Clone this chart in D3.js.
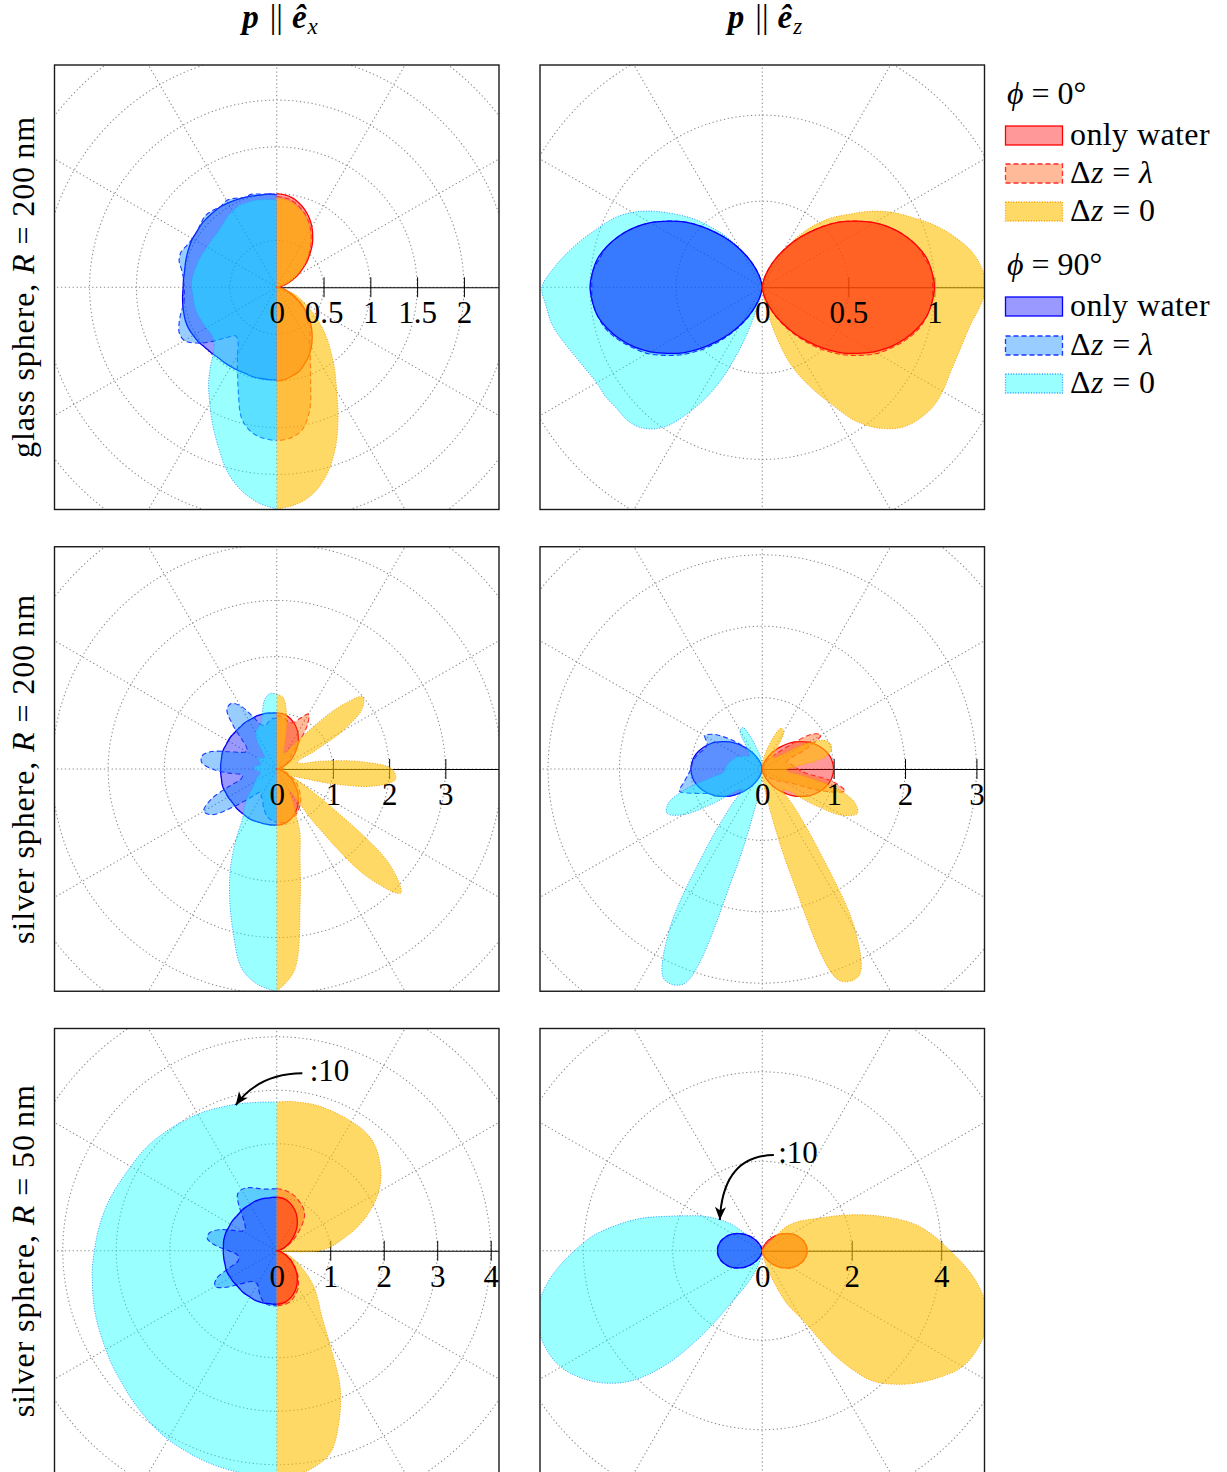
<!DOCTYPE html>
<html>
<head>
<meta charset="utf-8">
<script src="https://cdn.jsdelivr.net/npm/d3@7"></script>
<style>
  html, body { margin: 0; padding: 0; background: #fff; overflow: hidden; }
  svg { display: block; }
  text { font-family: "Liberation Serif", "Times New Roman", serif; fill: #000; }
</style>
</head>
<body>
<svg id="fig" width="1227" height="1472"></svg>
<script>
// Polar angle of every sample, measured from the upward axis (0 = up, 90 = sideways, 180 = down)
const angleDeg = [0,5,10,15,20,25,30,35,40,45,50,55,60,65,70,75,80,85,90,95,100,105,110,115,120,125,130,135,140,145,150,155,160,165,170,175,180];

// ---- glass sphere, R = 200 nm, p || e_x ----
const glassEx_water0  = [1.00,0.99,0.97,0.93,0.88,0.82,0.75,0.67,0.59,0.50,0.42,0.33,0.26,0.18,0.12,0.07,0.03,0.01,0.00,0.01,0.03,0.07,0.12,0.18,0.25,0.33,0.41,0.50,0.58,0.66,0.74,0.81,0.87,0.93,0.96,0.99,1.00];
const glassEx_lambda0 = [0.97,0.96,0.94,0.90,0.85,0.79,0.72,0.64,0.56,0.48,0.40,0.32,0.25,0.17,0.11,0.06,0.03,0.01,0.00,0.01,0.03,0.06,0.10,0.15,0.22,0.30,0.40,0.50,0.56,0.62,0.71,0.85,1.06,1.36,1.55,1.62,1.64];
const glassEx_zero0   = [0.95,0.94,0.92,0.88,0.84,0.78,0.71,0.63,0.55,0.47,0.39,0.31,0.24,0.17,0.11,0.06,0.03,0.01,0.00,0.02,0.05,0.10,0.18,0.26,0.35,0.47,0.60,0.75,0.90,1.08,1.28,1.55,1.83,2.07,2.24,2.33,2.37];
const glassEx_water90  = [0.99,1.00,1.00,1.01,1.02,1.03,1.04,1.05,1.05,1.05,1.05,1.04,1.04,1.03,1.02,1.01,1.00,1.00,1.00,1.01,1.02,1.03,1.04,1.04,1.03,1.02,1.00,0.99,0.98,0.98,0.98,0.98,0.98,0.99,0.99,0.99,0.99];
const glassEx_lambda90 = [0.99,1.00,1.01,1.03,1.02,1.05,1.07,1.05,1.07,1.08,1.06,1.04,1.04,1.06,1.09,1.08,1.03,1.00,0.99,0.99,1.01,1.06,1.11,1.15,1.14,1.04,0.90,0.76,0.68,0.72,0.84,0.99,1.20,1.45,1.57,1.62,1.64];
const glassEx_zero90   = [0.93,0.94,0.95,0.96,0.96,0.96,0.94,0.92,0.89,0.87,0.86,0.86,0.86,0.87,0.88,0.89,0.90,0.91,0.91,0.90,0.90,0.90,0.89,0.88,0.87,0.86,0.88,0.95,1.10,1.27,1.43,1.62,1.82,2.04,2.20,2.31,2.37];

// ---- glass sphere, R = 200 nm, p || e_z ----
const glassEz_water0  = [0.00,0.01,0.03,0.07,0.12,0.18,0.25,0.33,0.41,0.50,0.59,0.67,0.75,0.82,0.88,0.93,0.97,0.99,1.00,0.99,0.97,0.93,0.88,0.82,0.75,0.67,0.59,0.50,0.41,0.33,0.25,0.18,0.12,0.07,0.03,0.01,0.00];
const glassEz_lambda0 = [0.00,0.01,0.03,0.07,0.12,0.18,0.25,0.33,0.41,0.50,0.59,0.67,0.75,0.82,0.88,0.93,0.96,0.99,0.99,0.99,0.97,0.94,0.89,0.83,0.77,0.69,0.61,0.52,0.43,0.34,0.26,0.19,0.12,0.07,0.03,0.01,0.00];
const glassEz_zero0   = [0.00,0.01,0.03,0.07,0.11,0.17,0.25,0.36,0.47,0.57,0.66,0.77,0.87,0.96,1.06,1.15,1.23,1.28,1.30,1.27,1.23,1.21,1.20,1.20,1.21,1.21,1.19,1.15,1.07,0.95,0.77,0.62,0.47,0.26,0.10,0.03,0.00];
const glassEz_water90  = [0.00,0.01,0.03,0.07,0.12,0.18,0.25,0.33,0.41,0.50,0.59,0.67,0.75,0.82,0.88,0.93,0.97,0.99,1.00,0.99,0.97,0.93,0.88,0.82,0.75,0.67,0.59,0.50,0.41,0.33,0.25,0.18,0.12,0.07,0.03,0.01,0.00];
const glassEz_lambda90 = [0.00,0.01,0.03,0.07,0.12,0.18,0.25,0.33,0.41,0.50,0.59,0.67,0.75,0.82,0.88,0.93,0.96,0.99,0.99,0.99,0.97,0.94,0.89,0.83,0.77,0.69,0.61,0.52,0.43,0.34,0.26,0.19,0.12,0.07,0.03,0.01,0.00];
const glassEz_zero90   = [0.00,0.01,0.03,0.07,0.11,0.17,0.25,0.35,0.45,0.56,0.66,0.77,0.87,0.95,1.01,1.08,1.15,1.22,1.28,1.26,1.24,1.20,1.16,1.13,1.11,1.11,1.10,1.10,1.07,0.99,0.83,0.64,0.38,0.15,0.05,0.01,0.00];

// ---- silver sphere, R = 200 nm, p || e_x ----
const silver200Ex_water0  = [1.00,0.99,0.97,0.93,0.88,0.82,0.75,0.67,0.59,0.50,0.41,0.33,0.25,0.18,0.12,0.07,0.03,0.01,0.00,0.01,0.03,0.07,0.12,0.18,0.25,0.33,0.41,0.50,0.59,0.67,0.75,0.82,0.88,0.93,0.97,0.99,1.00];
const silver200Ex_lambda0 = [0.95,0.94,0.90,0.86,0.88,1.00,1.13,0.95,0.60,0.40,0.30,0.25,0.20,0.15,0.12,0.10,0.10,0.12,0.12,0.12,0.10,0.12,0.18,0.25,0.33,0.42,0.50,0.58,0.66,0.74,0.80,0.86,0.90,0.93,0.95,0.96,0.96];
const silver200Ex_zero0   = [1.33,1.28,1.00,0.60,0.35,0.30,0.35,0.50,0.90,1.55,2.00,1.85,1.35,0.70,0.40,0.40,0.80,1.50,2.05,2.12,1.75,1.00,0.45,0.30,0.50,1.20,2.60,3.12,2.50,1.20,0.45,0.70,1.20,1.60,2.40,3.60,3.96];
const silver200Ex_water90  = [1.00,1.00,1.01,1.01,1.01,1.00,1.00,1.00,0.99,0.99,0.99,1.00,1.00,1.00,1.01,1.01,1.00,1.00,1.00,1.00,1.00,1.01,1.01,1.00,1.00,0.99,0.99,1.00,1.00,1.00,1.01,1.01,1.00,1.00,1.00,1.00,1.00];
const silver200Ex_lambda90 = [0.90,0.90,0.85,0.80,0.85,1.05,1.30,1.42,1.38,1.10,0.80,0.65,0.62,0.70,0.90,1.20,1.35,1.34,1.15,0.85,0.62,0.65,0.90,1.30,1.50,1.42,1.10,0.80,0.60,0.50,0.55,0.60,0.70,0.80,0.88,0.92,0.95];
const silver200Ex_zero90   = [1.33,1.35,1.25,1.00,0.85,0.80,0.75,0.60,0.40,0.30,0.30,0.35,0.40,0.35,0.30,0.30,0.35,0.40,0.40,0.35,0.30,0.30,0.35,0.40,0.45,0.50,0.60,0.75,0.90,1.05,1.45,1.95,2.45,3.00,3.60,3.85,3.96];

// ---- silver sphere, R = 200 nm, p || e_z ----
const silver200Ez_water0  = [0.00,0.01,0.03,0.07,0.12,0.18,0.25,0.33,0.41,0.50,0.59,0.67,0.75,0.82,0.88,0.93,0.97,0.99,1.00,0.99,0.97,0.93,0.88,0.82,0.75,0.67,0.59,0.50,0.41,0.33,0.25,0.18,0.12,0.07,0.03,0.01,0.00];
const silver200Ez_lambda0 = [0.00,0.01,0.02,0.04,0.07,0.10,0.15,0.20,0.25,0.35,0.55,0.85,0.95,0.70,0.40,0.35,0.40,0.45,0.50,0.60,1.00,1.20,0.90,0.50,0.35,0.30,0.25,0.20,0.15,0.12,0.08,0.05,0.03,0.02,0.01,0.00,0.00];
const silver200Ez_zero0   = [0.08,0.12,0.20,0.32,0.50,0.63,0.60,0.38,0.25,0.22,0.25,0.35,0.70,0.95,1.02,1.00,0.85,0.50,0.35,0.35,0.60,1.10,1.38,1.47,1.30,0.85,0.48,0.40,0.70,1.35,2.60,3.20,3.15,1.50,0.50,0.20,0.10];
const silver200Ez_water90  = [0.00,0.01,0.03,0.07,0.12,0.18,0.25,0.33,0.41,0.50,0.59,0.67,0.75,0.82,0.88,0.93,0.97,0.99,1.00,0.99,0.97,0.93,0.88,0.82,0.75,0.67,0.59,0.50,0.41,0.33,0.25,0.18,0.12,0.07,0.03,0.01,0.00];
const silver200Ez_lambda90 = [0.00,0.01,0.03,0.07,0.12,0.18,0.25,0.33,0.42,0.55,0.70,0.85,0.93,0.85,0.85,0.90,0.95,0.98,1.00,1.05,1.12,1.20,1.00,0.82,0.75,0.67,0.59,0.50,0.41,0.33,0.25,0.18,0.12,0.07,0.03,0.01,0.00];
const silver200Ez_zero90   = [0.08,0.12,0.20,0.30,0.48,0.64,0.62,0.40,0.28,0.25,0.28,0.32,0.35,0.40,0.42,0.45,0.48,0.50,0.52,0.55,0.75,1.12,1.40,1.47,1.28,0.85,0.48,0.40,0.70,1.40,2.60,3.25,3.20,1.50,0.50,0.20,0.10];

// ---- silver sphere, R = 50 nm, p || e_x  (Delta z = 0 curves divided by 10) ----
const silver50Ex_water0  = [1.00,0.99,0.97,0.93,0.88,0.82,0.75,0.67,0.59,0.50,0.41,0.33,0.25,0.18,0.12,0.07,0.03,0.01,0.00,0.01,0.03,0.07,0.12,0.18,0.25,0.33,0.41,0.50,0.59,0.67,0.75,0.82,0.88,0.93,0.97,0.99,1.00];
const silver50Ex_lambda0 = [1.16,1.15,1.13,1.10,1.06,1.01,0.96,0.90,0.80,0.66,0.52,0.41,0.31,0.22,0.15,0.09,0.05,0.02,0.01,0.02,0.05,0.08,0.13,0.19,0.26,0.34,0.43,0.52,0.62,0.71,0.80,0.87,0.93,0.98,1.01,1.02,1.03];
const silver50Ex_zero0   = [2.78,2.80,2.81,2.82,2.81,2.80,2.79,2.78,2.74,2.65,2.52,2.38,2.20,1.98,1.75,1.50,1.25,1.05,0.80,0.20,0.08,0.12,0.22,0.33,0.45,0.60,0.80,1.00,1.20,1.45,1.95,2.80,3.40,3.90,4.10,4.20,4.25];
const silver50Ex_water90  = [1.00,1.00,1.00,1.01,1.01,1.01,1.00,1.00,1.00,0.99,0.99,1.00,1.00,1.00,1.01,1.01,1.01,1.00,1.00,1.00,1.00,1.00,1.01,1.01,1.00,1.00,0.99,0.99,1.00,1.00,1.00,1.01,1.01,1.01,1.00,1.00,1.00];
const silver50Ex_lambda90 = [1.16,1.16,1.17,1.20,1.25,1.30,1.32,1.28,1.10,0.90,0.78,0.72,0.74,0.90,1.15,1.30,1.32,1.15,0.90,0.75,0.72,0.75,0.95,1.25,1.33,1.20,1.00,0.85,0.75,0.72,0.72,0.80,0.90,0.98,1.02,1.03,1.03];
const silver50Ex_zero90   = [2.78,2.79,2.81,2.84,2.87,2.91,2.95,2.98,3.02,3.06,3.10,3.13,3.15,3.19,3.24,3.29,3.33,3.37,3.41,3.46,3.50,3.55,3.60,3.64,3.69,3.75,3.80,3.87,3.94,4.01,4.07,4.11,4.15,4.18,4.20,4.22,4.25];

// ---- silver sphere, R = 50 nm, p || e_z  (Delta z = 0 curves divided by 10) ----
const silver50Ez_water0  = [0.00,0.01,0.03,0.07,0.12,0.18,0.25,0.33,0.41,0.50,0.59,0.67,0.75,0.82,0.88,0.93,0.97,0.99,1.00,0.99,0.97,0.93,0.88,0.82,0.75,0.67,0.59,0.50,0.41,0.33,0.25,0.18,0.12,0.07,0.03,0.01,0.00];
const silver50Ez_lambda0 = [0.00,0.01,0.03,0.07,0.12,0.18,0.26,0.34,0.42,0.51,0.60,0.68,0.76,0.83,0.89,0.94,0.98,1.00,1.01,1.00,0.98,0.94,0.89,0.83,0.76,0.68,0.60,0.51,0.42,0.34,0.26,0.18,0.12,0.07,0.03,0.01,0.00];
const silver50Ez_zero0   = [0.00,0.01,0.02,0.03,0.04,0.05,0.06,0.08,0.15,0.75,1.00,1.20,1.45,1.85,2.35,2.90,3.45,3.85,4.20,4.60,4.95,5.20,5.30,5.28,5.18,4.90,4.58,4.22,3.78,2.90,1.75,1.30,0.70,0.35,0.15,0.05,0.00];
const silver50Ez_water90  = [0.00,0.01,0.03,0.07,0.12,0.18,0.25,0.33,0.41,0.50,0.59,0.67,0.75,0.82,0.88,0.93,0.97,0.99,1.00,0.99,0.97,0.93,0.88,0.82,0.75,0.67,0.59,0.50,0.41,0.33,0.25,0.18,0.12,0.07,0.03,0.01,0.00];
const silver50Ez_lambda90 = [0.00,0.01,0.03,0.07,0.12,0.18,0.26,0.34,0.42,0.51,0.60,0.68,0.76,0.83,0.89,0.94,0.98,1.00,1.01,1.00,0.98,0.94,0.89,0.83,0.76,0.68,0.60,0.51,0.42,0.34,0.26,0.18,0.12,0.07,0.03,0.01,0.00];
const silver50Ez_zero90   = [0.00,0.01,0.02,0.03,0.04,0.05,0.06,0.08,0.20,0.55,0.95,1.25,1.55,1.85,2.25,2.80,3.30,3.80,4.20,4.60,4.95,5.20,5.30,5.30,5.20,4.95,4.60,4.10,3.30,2.20,1.25,0.85,0.55,0.30,0.12,0.04,0.00];

// Radial tick labels of each panel
const ticksGlassEx     = [0, 0.5, 1, 1.5, 2];
const ticksGlassEz     = [0, 0.5, 1];
const ticksSilver200Ex = [0, 1, 2, 3];
const ticksSilver200Ez = [0, 1, 2, 3];
const ticksSilver50Ex  = [0, 1, 2, 3, 4];
const ticksSilver50Ez  = [0, 2, 4];

// Text
const columnSubscripts = ["x", "z"];
const rowLabels = [
  ["glass sphere, ", "R", " = 200\u2009nm"],
  ["silver sphere, ", "R", " = 200\u2009nm"],
  ["silver sphere, ", "R", " = 50\u2009nm"]
];
const legendHeaders = ["0°", "90°"];
const legendLabels = [
  [["only water", false]],
  [["Δ", false], ["z", true], [" = ", false], ["λ", true]],
  [["Δ", false], ["z", true], [" = 0", false]]
];
const scaleNote = ":10";

// ---------------------------------------------------------------------------
const STYLE = {
  water0:   { fill: "#ff0000", op: 0.4, stroke: "#ff0000", dash: null,      sw: 1.3 },
  lambda0:  { fill: "#ff5500", op: 0.4, stroke: "#ff2a2a", dash: "5,3",     sw: 1.1 },
  zero0:    { fill: "#ffbf00", op: 0.6, stroke: "#f0a000", dash: "1,1.6",   sw: 1.0 },
  water90:  { fill: "#0000ff", op: 0.4, stroke: "#0000ff", dash: null,      sw: 1.3 },
  lambda90: { fill: "#0080ff", op: 0.4, stroke: "#1838ff", dash: "5,3",     sw: 1.1 },
  zero90:   { fill: "#00ffff", op: 0.4, stroke: "#2a9cff", dash: "1,1.6",   sw: 1.0 }
};

const ZERO_ON_TOP  = ["water", "lambda", "zero"];
const WATER_ON_TOP = ["zero", "lambda", "water"];

const BOX = 444.5, HALF = BOX / 2;
const panels = [
  { x: 54.5, y: 65,     rMax: 2.375, step: 0.5, ticks: ticksGlassEx,
    right: { water: glassEx_water0, lambda: glassEx_lambda0, zero: glassEx_zero0 },
    left:  { water: glassEx_water90, lambda: glassEx_lambda90, zero: glassEx_zero90 },
    orderR: ZERO_ON_TOP, orderL: ZERO_ON_TOP },
  { x: 540,  y: 65,     rMax: 1.291, step: 0.5, ticks: ticksGlassEz,
    right: { water: glassEz_water0, lambda: glassEz_lambda0, zero: glassEz_zero0 },
    left:  { water: glassEz_water90, lambda: glassEz_lambda90, zero: glassEz_zero90 },
    orderR: WATER_ON_TOP, orderL: WATER_ON_TOP },
  { x: 54.5, y: 546.75, rMax: 3.955, step: 1, ticks: ticksSilver200Ex,
    right: { water: silver200Ex_water0, lambda: silver200Ex_lambda0, zero: silver200Ex_zero0 },
    left:  { water: silver200Ex_water90, lambda: silver200Ex_lambda90, zero: silver200Ex_zero90 },
    orderR: ZERO_ON_TOP, orderL: ZERO_ON_TOP },
  { x: 540,  y: 546.75, rMax: 3.113, step: 1, ticks: ticksSilver200Ez,
    right: { water: silver200Ez_water0, lambda: silver200Ez_lambda0, zero: silver200Ez_zero0 },
    left:  { water: silver200Ez_water90, lambda: silver200Ez_lambda90, zero: silver200Ez_zero90 },
    orderR: ZERO_ON_TOP, orderL: ZERO_ON_TOP },
  { x: 54.5, y: 1028.5, rMax: 4.155, step: 1, ticks: ticksSilver50Ex,
    right: { water: silver50Ex_water0, lambda: silver50Ex_lambda0, zero: silver50Ex_zero0 },
    left:  { water: silver50Ex_water90, lambda: silver50Ex_lambda90, zero: silver50Ex_zero90 },
    orderR: WATER_ON_TOP, orderL: WATER_ON_TOP,
    note: { text: [33, -169.5], arrow: "M25.6,-177.4 Q-18,-177 -41,-145.7" } },
  { x: 540,  y: 1028.5, rMax: 4.968, step: 2, ticks: ticksSilver50Ez,
    right: { water: silver50Ez_water0, lambda: silver50Ez_lambda0, zero: silver50Ez_zero0 },
    left:  { water: silver50Ez_water90, lambda: silver50Ez_lambda90, zero: silver50Ez_zero90 },
    orderR: ZERO_ON_TOP, orderL: WATER_ON_TOP,
    note: { text: [16, -87.5], arrow: "M11.6,-95.7 Q-39.5,-95 -42.4,-30.7" } }
];

const svg = d3.select("#fig");
const defs = svg.append("defs");

defs.append("marker")
  .attr("id", "arrowhead")
  .attr("viewBox", "-14 -7 15 14")
  .attr("refX", 0).attr("refY", 0)
  .attr("markerWidth", 15).attr("markerHeight", 14)
  .attr("markerUnits", "userSpaceOnUse")
  .attr("orient", "auto")
  .append("path")
  .attr("d", "M0,0 L-13,-5.5 L-9.5,0 L-13,5.5 Z")
  .attr("fill", "#000");

const gridStroke = { stroke: "#8a8a8a", width: 1.05, dash: "1.3,2.6" };

panels.forEach((p, i) => {
  const cx = p.x + HALF, cy = p.y + HALF;
  const r = d3.scaleLinear().domain([0, p.rMax]).range([0, HALF]);

  defs.append("clipPath").attr("id", "clip" + i)
    .append("rect").attr("x", p.x).attr("y", p.y).attr("width", BOX).attr("height", BOX);

  const clipped = svg.append("g").attr("clip-path", `url(#clip${i})`);
  const c = clipped.append("g").attr("transform", `translate(${cx},${cy})`);

  // polar grid: rings at every tick step, spokes every 30 degrees
  const rings = d3.range(p.step, p.rMax * Math.SQRT2 + p.step, p.step);
  c.append("g").selectAll("circle").data(rings).join("circle")
    .attr("r", d => r(d))
    .attr("fill", "none")
    .attr("stroke", gridStroke.stroke)
    .attr("stroke-width", gridStroke.width)
    .attr("stroke-dasharray", gridStroke.dash);
  const spokeLen = r(p.rMax * 1.5);
  c.append("g").selectAll("line").data(d3.range(0, 360, 30)).join("line")
    .attr("x1", 0).attr("y1", 0)
    .attr("x2", d => spokeLen * Math.cos(d * Math.PI / 180))
    .attr("y2", d => -spokeLen * Math.sin(d * Math.PI / 180))
    .attr("stroke", gridStroke.stroke)
    .attr("stroke-width", gridStroke.width)
    .attr("stroke-dasharray", gridStroke.dash);

  // radial axis along the positive horizontal direction
  const axisLines = c.append("g")
    .call(d3.axisBottom(r).tickValues(p.ticks.filter(t => t > 0)).tickSizeInner(10).tickSizeOuter(0).tickFormat(""));
  axisLines.select(".domain").attr("stroke", "#000").attr("stroke-width", 1.1);
  axisLines.selectAll(".tick line").attr("y1", -10).attr("y2", 10).attr("stroke", "#000").attr("stroke-width", 1);

  // radiation lobes: right half = phi 0 deg, left half = phi 90 deg
  const drawSide = (series, order, sign, suffix) => {
    const line = d3.lineRadial()
      .angle(d => sign * d[0] * Math.PI / 180)
      .radius(d => r(d[1]))
      .curve(d3.curveCatmullRom.alpha(0.5));
    order.forEach(key => {
      const st = STYLE[key + suffix];
      const pts = angleDeg.map((a, k) => [a, series[key][k]]);
      const d = line(pts);
      c.append("path").attr("d", d + "Z")
        .attr("fill", st.fill).attr("fill-opacity", st.op).attr("stroke", "none");
      c.append("path").attr("d", d)
        .attr("fill", "none").attr("stroke", st.stroke).attr("stroke-width", st.sw)
        .attr("stroke-dasharray", st.dash).attr("stroke-linejoin", "round");
    });
  };
  drawSide(p.left, p.orderL, -1, "90");
  drawSide(p.right, p.orderR, 1, "0");

  // tick labels on top of the lobes
  const labels = svg.append("g").attr("transform", `translate(${cx},${cy})`)
    .call(d3.axisBottom(r).tickValues(p.ticks).tickSize(0).tickFormat(d => String(d)));
  labels.select(".domain").remove();
  labels.attr("font-family", null).attr("font-size", null);
  labels.selectAll("text")
    .attr("y", 36).attr("dy", null)
    .attr("font-size", 31)
    .attr("font-family", "'Liberation Serif', 'Times New Roman', serif")
    .attr("fill", "#000");

  // scaling note for the Delta z = 0 curves
  if (p.note) {
    const n = svg.append("g").attr("transform", `translate(${cx},${cy})`);
    n.append("path").attr("d", p.note.arrow)
      .attr("fill", "none").attr("stroke", "#000").attr("stroke-width", 2)
      .attr("marker-end", "url(#arrowhead)");
    n.append("text").attr("x", p.note.text[0]).attr("y", p.note.text[1])
      .attr("font-size", 31).text(scaleNote);
  }

  // frame
  svg.append("rect").attr("x", p.x).attr("y", p.y).attr("width", BOX).attr("height", BOX)
    .attr("fill", "none").attr("stroke", "#1a1a1a").attr("stroke-width", 1.4);
});

// column titles
[280, 765].forEach((x, i) => {
  const t = svg.append("text").attr("x", x).attr("y", 28).attr("text-anchor", "middle").attr("font-size", 33);
  t.append("tspan").attr("font-weight", "bold").attr("font-style", "italic").text("p");
  t.append("tspan").attr("dx", 11).text("||");
  t.append("tspan").attr("dx", 9).attr("font-weight", "bold").attr("font-style", "italic").text("ê");
  t.append("tspan").attr("font-style", "italic").attr("font-size", 23).attr("dx", 1).attr("dy", 6).text(columnSubscripts[i]);
});

// row labels
[287, 769, 1250.75].forEach((y, i) => {
  const t = svg.append("text")
    .attr("transform", `translate(34,${y}) rotate(-90)`)
    .attr("text-anchor", "middle").attr("font-size", 32).attr("letter-spacing", 0.9);
  t.append("tspan").text(rowLabels[i][0]);
  t.append("tspan").attr("font-style", "italic").text(rowLabels[i][1]);
  t.append("tspan").text(rowLabels[i][2]);
});

// legend
const legend = svg.append("g");
const headerY = [104, 275];
const boxTops = [[126, 164, 202], [297, 336, 374]];
const legendKeys = [["water0", "lambda0", "zero0"], ["water90", "lambda90", "zero90"]];
[0, 1].forEach(gi => {
  const h = legend.append("text").attr("x", 1007).attr("y", headerY[gi]).attr("font-size", 32);
  h.append("tspan").attr("font-style", "italic").text("ϕ");
  h.append("tspan").text(" = " + legendHeaders[gi]);
  legendKeys[gi].forEach((key, k) => {
    const st = STYLE[key];
    const y = boxTops[gi][k];
    legend.append("rect").attr("x", 1005.5).attr("y", y).attr("width", 57).attr("height", 19)
      .attr("fill", st.fill).attr("fill-opacity", st.op)
      .attr("stroke", st.stroke).attr("stroke-width", 1.3).attr("stroke-dasharray", st.dash);
    const t = legend.append("text").attr("x", 1070).attr("y", y + 19).attr("font-size", 32).attr("letter-spacing", 0.4);
    legendLabels[k].forEach(([s, it]) => {
      const sp = t.append("tspan").text(s);
      if (it) sp.attr("font-style", "italic");
    });
  });
});
</script>
</body>
</html>
